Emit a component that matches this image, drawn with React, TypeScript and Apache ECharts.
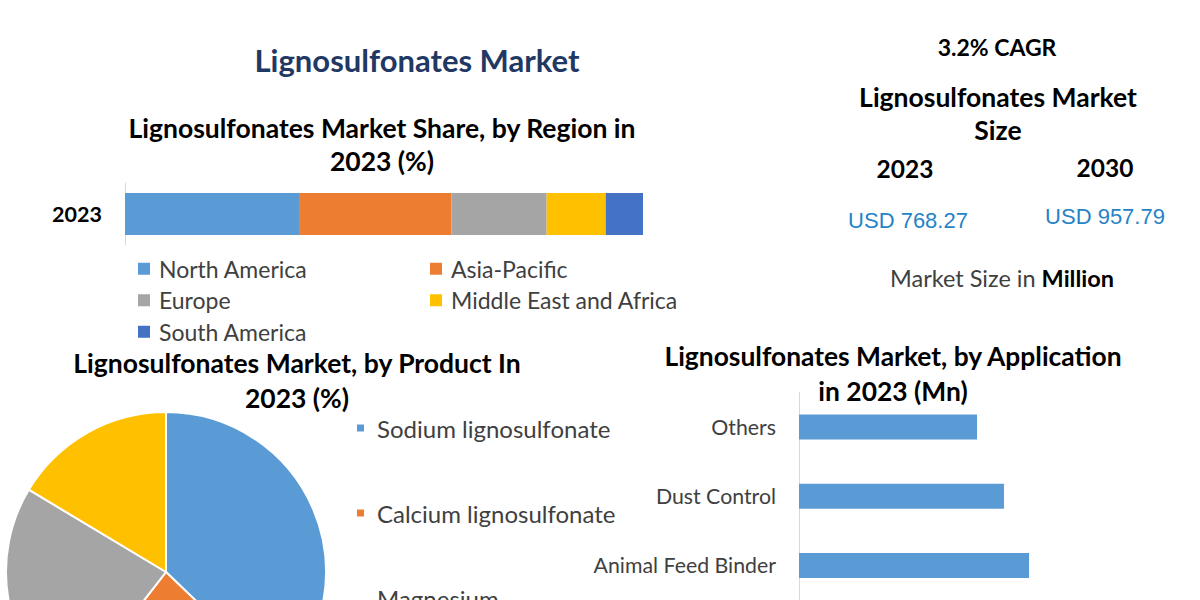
import React, { useEffect, useRef } from "react";
import * as echarts from "echarts";

// ---- Data ----
const regionCategory = ["2023"];
const regionNames = ["North America", "Asia-Pacific", "Europe", "Middle East and Africa", "South America"];
const regionShares = [33.6, 29.4, 18.4, 11.4, 7.2];
const regionColors = ["#5b9bd5", "#ed7d31", "#a5a5a5", "#ffc000", "#4472c4"];

const productNames = ["Sodium lignosulfonate", "Calcium lignosulfonate", "Magnesium lignosulfonate", "Others"];
const productShares = [37.2, 23.3, 23.1, 16.4];
const productColors = ["#5b9bd5", "#ed7d31", "#a5a5a5", "#ffc000"];

const applicationNames = ["Animal Feed Binder", "Dust Control", "Others"];
const applicationValues = [149.4, 133.1, 115.6];

const cagrText = "3.2% CAGR";
const sizeYears = ["2023", "2030"];
const sizeValues = ["USD 768.27", "USD 957.79"];

const FONT = "Lato, 'Noto Sans', sans-serif";

function txt(x: number, y: number, text: string, size: number, fill: string, weight = "normal", lineHeight?: number) {
  return {
    type: "text",
    x,
    y,
    style: {
      text,
      fill,
      font: `${weight} ${size}px ${FONT}`,
      fontFamily: FONT,
      fontSize: size,
      fontWeight: weight,
      lineHeight: lineHeight ?? Math.round(size * 1.3),
      align: "center",
      verticalAlign: "middle",
      textAlign: "center",
      textVerticalAlign: "middle",
    },
  };
}

export default function App() {
  const ref = useRef<HTMLDivElement>(null);
  useEffect(() => {
    if (!ref.current) return;
    const chart = echarts.init(ref.current, undefined, { renderer: "svg" });
    const option: any = {
      animation: false,
      backgroundColor: "#ffffff",
      textStyle: { fontFamily: FONT },
      grid: [
        { left: 125, top: 183, width: 518, height: 62 },
        { left: 799, top: 392.5, width: 385, height: 213 },
      ],
      xAxis: [
        { gridIndex: 0, type: "value", min: 0, max: 100, show: false },
        { gridIndex: 1, type: "value", min: 0, max: 250, show: false },
      ],
      yAxis: [
        {
          gridIndex: 0,
          type: "category",
          data: regionCategory,
          axisLine: { show: true, lineStyle: { color: "#d9d9d9", width: 1 } },
          axisTick: { show: false },
          axisLabel: { margin: 23, color: "#000", fontSize: 21.5, fontWeight: "bold", fontFamily: FONT },
        },
        {
          gridIndex: 1,
          type: "category",
          data: applicationNames,
          axisLine: { show: true, lineStyle: { color: "#d9d9d9", width: 1 } },
          axisTick: { show: false },
          axisLabel: { margin: 23, color: "#404040", fontSize: 21.3, fontFamily: FONT },
        },
      ],
      legend: [
        {
          data: regionNames,
          left: 138,
          top: 253,
          width: 620,
          padding: 0,
          itemGap: 0,
          itemWidth: 12,
          itemHeight: 12,
          icon: "rect",
          selectedMode: false,
          textStyle: {
            fontSize: 23,
            color: "#404040",
            fontFamily: FONT,
            width: 271,
            lineHeight: 31.5,
            padding: [0, 0, 0, 4],
          },
        },
        {
          data: productNames,
          orient: "vertical",
          left: 355,
          top: 415,
          height: 600,
          padding: 0,
          itemGap: 59,
          itemWidth: 9,
          itemHeight: 9,
          icon: "rect",
          selectedMode: false,
          formatter: (n: string) => (n === "Magnesium lignosulfonate" ? "Magnesium\nlignosulfonate" : n),
          textStyle: {
            fontSize: 24,
            color: "#404040",
            fontFamily: FONT,
            lineHeight: 26,
            padding: [0, 0, 0, 7],
          },
        },
      ],
      series: [
        ...regionNames.map((name, i) => ({
          type: "bar",
          name,
          stack: "region",
          xAxisIndex: 0,
          yAxisIndex: 0,
          barWidth: 42,
          data: [regionShares[i]],
          itemStyle: { color: regionColors[i] },
          label: { show: false },
        })),
        {
          type: "bar",
          name: "Application",
          xAxisIndex: 1,
          yAxisIndex: 1,
          barWidth: 25,
          data: applicationValues,
          itemStyle: { color: "#5b9bd5" },
        },
        {
          type: "pie",
          name: "Product",
          center: [166, 572],
          radius: 160,
          startAngle: 90,
          clockwise: true,
          label: { show: false },
          labelLine: { show: false },
          itemStyle: { borderColor: "#ffffff", borderWidth: 2 },
          data: productNames.map((name, i) => ({
            name,
            value: productShares[i],
            itemStyle: { color: productColors[i] },
          })),
        },
      ],
      graphic: [
        txt(417, 60, "Lignosulfonates Market", 31, "#1f3864", "bold"),
        txt(382, 144.5, "Lignosulfonates Market Share, by Region in\n2023 (%)", 26.5, "#000000", "bold", 33),
        txt(297, 380.5, "Lignosulfonates Market, by Product In\n2023 (%)", 26.5, "#000000", "bold", 35),
        txt(893, 373.5, "Lignosulfonates Market, by Application\nin 2023 (Mn)", 26.4, "#000000", "bold", 35),
        txt(997, 47, cagrText, 23, "#000000", "bold"),
        txt(998, 113, "Lignosulfonates Market\nSize", 26.5, "#000000", "bold", 33),
        txt(905, 168, sizeYears[0], 24.5, "#000000", "bold"),
        txt(1105, 167, sizeYears[1], 24.5, "#000000", "bold"),
        {
          type: "text",
          x: 908,
          y: 220,
          style: {
            text: sizeValues[0],
            fill: "#2683c6",
            font: "normal 22px 'Liberation Sans', Arial, sans-serif",
            align: "center",
            verticalAlign: "middle",
            textAlign: "center",
            textVerticalAlign: "middle",
          },
        },
        {
          type: "text",
          x: 1105,
          y: 216,
          style: {
            text: sizeValues[1],
            fill: "#2683c6",
            font: "normal 22px 'Liberation Sans', Arial, sans-serif",
            align: "center",
            verticalAlign: "middle",
            textAlign: "center",
            textVerticalAlign: "middle",
          },
        },
        {
          type: "text",
          x: 1002,
          y: 278,
          style: {
            text: "{a|Market Size in }{b|Million}",
            align: "center",
            verticalAlign: "middle",
            textAlign: "center",
            textVerticalAlign: "middle",
            rich: {
              a: { fontSize: 23.5, fontFamily: FONT, color: "#404040", fill: "#404040" },
              b: { fontSize: 23.5, fontFamily: FONT, fontWeight: "bold", color: "#000000", fill: "#000000" },
            },
          },
        },
      ],
    };
    chart.setOption(option);
    return () => chart.dispose();
  }, []);
  return (
    <div
      ref={ref}
      style={{ position: "fixed", left: 0, top: 0, width: 1200, height: 600, background: "#fff" }}
    />
  );
}
